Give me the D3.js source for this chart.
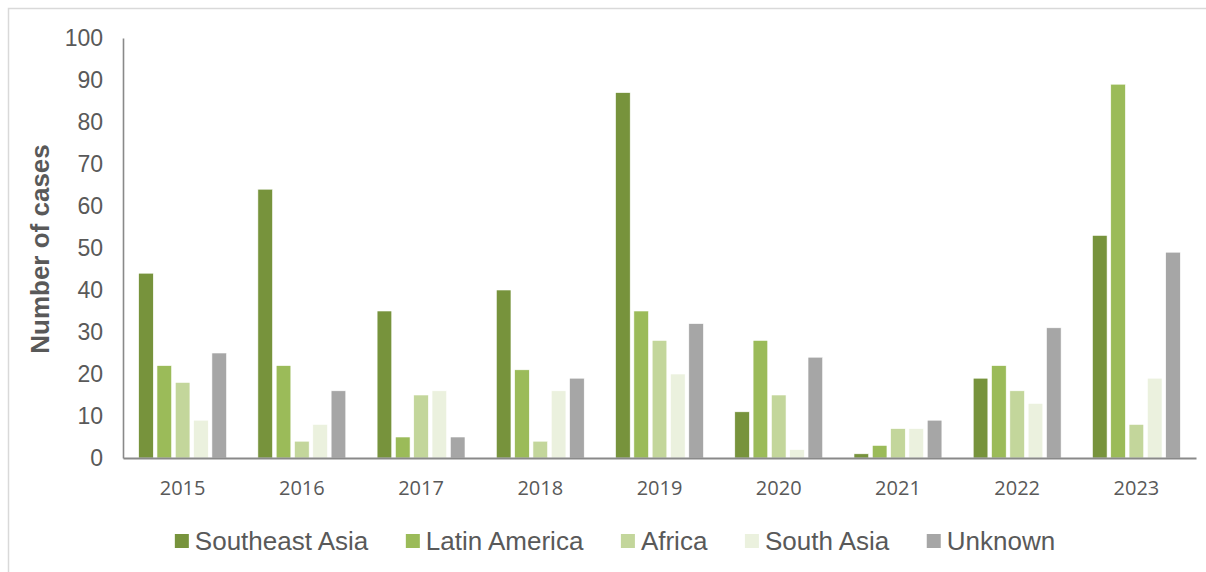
<!DOCTYPE html>
<html>
<head>
<meta charset="utf-8">
<script src="https://cdn.jsdelivr.net/npm/d3@7"></script>
<style>
  html, body { margin: 0; padding: 0; background: #fff; }
  svg { display: block; }
</style>
</head>
<body>
<svg id="chart" width="1206" height="572"></svg>
<script>
// ---- Data ----
const years = ["2015", "2016", "2017", "2018", "2019", "2020", "2021", "2022", "2023"];
const seriesNames = ["Southeast Asia", "Latin America", "Africa", "South Asia", "Unknown"];
const southeastAsia = [44, 64, 35, 40, 87, 11, 1, 19, 53];
const latinAmerica  = [22, 22, 5, 21, 35, 28, 3, 22, 89];
const africa        = [18, 4, 15, 4, 28, 15, 7, 16, 8];
const southAsia     = [9, 8, 16, 16, 20, 2, 7, 13, 19];
const unknown       = [25, 16, 5, 19, 32, 24, 9, 31, 49];
const yTicks = [0, 10, 20, 30, 40, 50, 60, 70, 80, 90, 100];
const seriesColors = ["#77933C", "#9BBB59", "#C3D69B", "#EBF1DE", "#A6A6A6"];
const yTitle = "Number of cases";

const seriesValues = [southeastAsia, latinAmerica, africa, southAsia, unknown];

// ---- Layout ----
const svg = d3.select("#chart");
const plot = { left: 123, right: 1196, top: 38, bottom: 458 };
const textColor = "#595959";
const axisColor = "#898989";

// chart frame (extends past right/bottom edge)
svg.append("rect")
  .attr("x", 8.5).attr("y", 8.5)
  .attr("width", 1220).attr("height", 600)
  .attr("fill", "none").attr("stroke", "#d9d9d9").attr("stroke-width", 1.5);

const x0 = d3.scaleBand()
  .domain(years)
  .range([plot.left, plot.right])
  .paddingInner(0.232)
  .paddingOuter(0.116);

const x1 = d3.scaleBand()
  .domain(seriesNames)
  .range([0, x0.bandwidth()])
  .paddingInner(0.2)
  .paddingOuter(0.1);

const y = d3.scaleLinear().domain([0, 100]).range([plot.bottom, plot.top]);

const color = d3.scaleOrdinal().domain(seriesNames).range(seriesColors);

// bars
const groups = svg.append("g").selectAll("g")
  .data(years)
  .join("g")
  .attr("transform", d => `translate(${x0(d)},0)`);

groups.selectAll("rect")
  .data((yr, i) => seriesNames.map((s, k) => ({ series: s, value: seriesValues[k][i] })))
  .join("rect")
  .attr("x", d => x1(d.series))
  .attr("y", d => y(d.value))
  .attr("width", x1.bandwidth())
  .attr("height", d => y(0) - y(d.value))
  .attr("fill", d => color(d.series))
  .attr("stroke", "#ffffff")
  .attr("stroke-width", 0.6);

// Y axis
const yAxis = d3.axisLeft(y).tickValues(yTicks).tickSize(0).tickPadding(20);
const gy = svg.append("g").attr("transform", `translate(${plot.left},0)`).call(yAxis);
gy.select(".domain").attr("stroke", axisColor).attr("stroke-width", 1.6);
gy.selectAll("text")
  .attr("fill", textColor)
  .style("font-family", "'Liberation Sans', Arial, sans-serif")
  .style("font-size", "23px");

// X axis
const xAxis = d3.axisBottom(x0).tickSize(0).tickPadding(23);
const gx = svg.append("g").attr("transform", `translate(0,${plot.bottom})`).call(xAxis);
gx.select(".domain").attr("stroke", axisColor).attr("stroke-width", 1.8);
gx.selectAll("text")
  .attr("fill", textColor)
  .style("font-family", "'Open Sans', 'Noto Sans', sans-serif")
  .style("font-size", "20px");

// Y title
svg.append("text")
  .attr("transform", `translate(49,${(plot.top + plot.bottom) / 2 + 1}) rotate(-90)`)
  .attr("text-anchor", "middle")
  .attr("fill", textColor)
  .style("font-family", "'Liberation Sans', Arial, sans-serif")
  .style("font-size", "26px")
  .style("font-weight", "bold")
  .text(yTitle);

// Legend
const legend = svg.append("g").attr("transform", "translate(0,541)");
const markerSize = 14;
const markerGap = 6;
const itemGap = 37;
const items = legend.selectAll("g").data(seriesNames).join("g");
items.append("rect")
  .attr("y", -markerSize / 2)
  .attr("width", markerSize).attr("height", markerSize)
  .attr("fill", d => color(d));
items.append("text")
  .attr("x", markerSize + markerGap)
  .attr("dy", "0.36em")
  .attr("fill", textColor)
  .style("font-family", "'Liberation Sans', Arial, sans-serif")
  .style("font-size", "26px")
  .text(d => d);
let widths = [];
items.each(function () { widths.push(this.getBBox().width); });
const total = d3.sum(widths) + itemGap * (widths.length - 1);
let cx = 615 - total / 2;
items.attr("transform", (d, i) => {
  const t = `translate(${cx},0)`;
  cx += widths[i] + itemGap;
  return t;
});
</script>
</body>
</html>
